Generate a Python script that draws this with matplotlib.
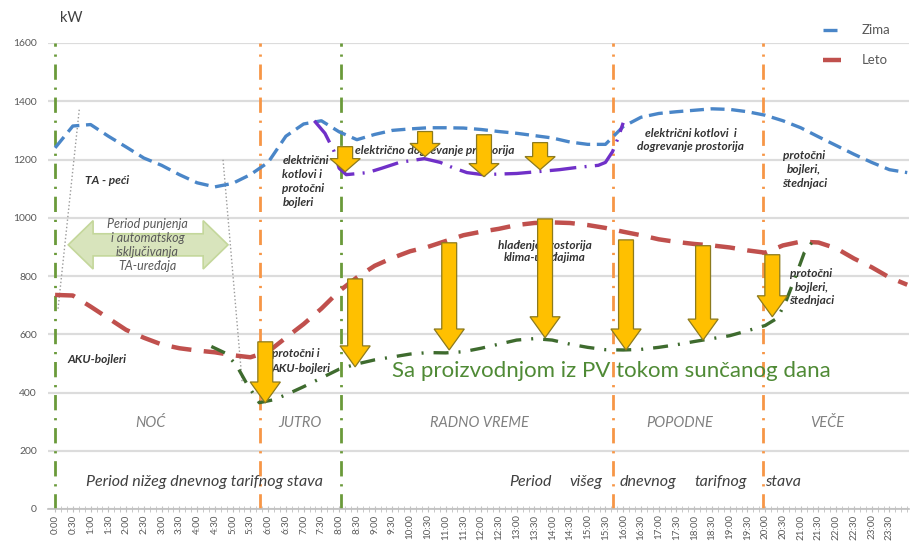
import matplotlib
matplotlib.use("Agg")
import matplotlib.pyplot as plt
import numpy as np
from matplotlib.patches import FancyArrow, Polygon

plt.rcParams['font.family'] = ['Lato', 'DejaVu Sans']

# half-hour time axis (hours), one extra point at the right edge
hours = np.arange(0, 24.01, 0.5)
tick_hours = np.arange(0, 24, 0.5)
tick_labels = [f"{int(h)}:{int(round((h % 1) * 60)):02d}" for h in tick_hours]

zima = [1240, 1315, 1320, 1280, 1243, 1205, 1180, 1148, 1120, 1106, 1118, 1148,
        1190, 1280, 1322, 1333, 1295, 1268, 1286, 1300, 1305, 1309, 1309, 1308,
        1303, 1296, 1290, 1282, 1274, 1260, 1252, 1252, 1313, 1345, 1358, 1364,
        1369, 1374, 1372, 1364, 1352, 1333, 1309, 1278, 1248, 1218, 1190, 1165, 1155]
leto = [735, 733, 695, 655, 615, 588, 565, 552, 544, 538, 528, 521,
        540, 588, 635, 688, 748, 795, 835, 862, 885, 900, 920, 940,
        952, 962, 975, 982, 984, 982, 975, 965, 952, 940, 926, 917,
        910, 905, 898, 888, 880, 905, 918, 915, 895, 860, 830, 795, 770]

# winter load reduced by local measures (purple)
winter_red_h = [7.3, 7.6, 7.85, 8.0, 8.2, 8.8, 9.2, 9.7, 10.4, 10.85, 11.2, 11.6, 12.05,
                12.5, 13.0, 13.75, 14.2, 14.65, 15.3, 15.5, 15.7, 15.86, 16.0]
winter_red = [1333, 1290, 1230, 1170, 1148, 1155, 1170, 1190, 1203, 1190, 1172, 1155, 1148,
              1150, 1152, 1160, 1165, 1172, 1180, 1190, 1227, 1275, 1326]

# summer load with PV production (dark green)
pv_h = [4.4, 4.8, 5.1, 5.4, 5.75, 6.15, 6.5, 7.0, 7.5, 8.0, 8.5, 9.0, 9.5, 10.0, 10.5,
        11.0, 11.5, 12.0, 12.5, 13.0, 13.5, 14.0, 14.5, 15.0, 15.5, 16.0, 16.5, 17.0,
        17.5, 18.0, 18.5, 19.0, 19.5, 20.0, 20.35, 20.6, 20.85, 21.1, 21.35]
pv = [558, 535, 495, 430, 365, 375, 392, 420, 450, 480, 498, 512, 522, 532, 537,
      536, 540, 552, 566, 580, 585, 580, 566, 555, 547, 546, 548, 555, 564,
      575, 585, 595, 612, 630, 656, 718, 797, 880, 921]

# big arrows: summer load -> PV line
big_arrow_h = [5.92, 8.45, 11.1, 13.8, 16.08, 18.25, 20.2]
big_arrow_top = [574, 790, 914, 996, 924, 904, 873]
big_arrow_tip = [364, 488, 546, 588, 546, 580, 660]
# small arrows: winter load -> purple line
small_arrow_h = [8.17, 10.42, 12.08, 13.66]
small_arrow_top = [1244, 1296, 1285, 1258]
small_arrow_tip = [1158, 1210, 1141, 1165]

green_vlines = [0.0, 8.05]
orange_vlines = [5.78, 15.7, 19.95]

periods = ["NOĆ", "JUTRO", "RADNO VREME", "POPODNE", "VEČE"]
period_h = [2.7, 6.9, 11.95, 17.6, 21.75]

fig = plt.figure(figsize=(9.16, 5.44), dpi=100)
ax = fig.add_axes([48 / 916, 1 - 509 / 544, (909 - 48) / 916, (509 - 43) / 544])
ax.set_xlim(-0.2, 24.05)
ax.set_ylim(0, 1600)

# grid + axes styling
ax.set_yticks(np.arange(0, 1601, 200))
ax.yaxis.grid(True, color='#dcdcdc', linewidth=1.6, zorder=0)
ax.set_axisbelow(True)
for s in ['top', 'right', 'left']:
    ax.spines[s].set_visible(False)
ax.spines['bottom'].set_color('#bfbfbf')
ax.spines['bottom'].set_linewidth(1.2)
ax.set_xticks(tick_hours)
ax.set_xticklabels(tick_labels, rotation=90, fontsize=7, color='#595959')
ax.set_xticks(np.arange(0, 24.01, 1 / 6), minor=True)
ax.tick_params(axis='x', which='both', direction='inout', length=4, color='#bfbfbf', pad=2)
ax.tick_params(axis='y', length=0, labelsize=7.5, labelcolor='#595959', pad=8)

# period separators
for h in green_vlines:
    ax.axvline(h, color='#6a9a3a', linewidth=2.0, dashes=(5.5, 2.8, 0.8, 2.8), zorder=2)
for h in orange_vlines:
    ax.axvline(h, color='#f79646', linewidth=2.0, dashes=(5.5, 2.8, 0.8, 2.8), zorder=2)

# thin gray dotted guides of the storage heater charging period
ax.plot([0.68, 0.08], [1371, 684], color='#9a9a9a', linewidth=1.0, linestyle=':', zorder=2)
ax.plot([4.73, 5.27], [1199, 433], color='#9a9a9a', linewidth=1.0, linestyle=':', zorder=2)

# light green double-headed arrow
x0, x1, yc = 0.37, 4.87, 907
body, head, hl = 38, 83, 0.7
arrow_shape = np.array([
    [x0, yc], [x0 + hl, yc + head], [x0 + hl, yc + body], [x1 - hl, yc + body],
    [x1 - hl, yc + head], [x1, yc], [x1 - hl, yc - head], [x1 - hl, yc - body],
    [x0 + hl, yc - body], [x0 + hl, yc - head]])
ax.add_patch(Polygon(arrow_shape, closed=True, facecolor='#d8e4bc', edgecolor='#c4d79b',
                     linewidth=1.2, zorder=3))
ax.text(2.6, 905, "Period punjenja\ni automatskog\nisključivanja\nTA-uređaja", ha='center',
        va='center', fontsize=9, style='italic', color='#595959', linespacing=1.2, zorder=4)

# annotations
note = dict(fontsize=8.6, fontweight='bold', style='italic', color='#333333', zorder=4)
ax.text(0.85, 1128, "TA - peći", ha='left', va='center', **note)
ax.text(0.35, 512, "AKU-bojleri", ha='left', va='center', **note)
ax.text(6.4, 1125, "električni\nkotlovi i\nprotočni\nbojleri", ha='left', va='center',
        linespacing=1.35, **note)
ax.text(8.45, 1232, "električno dogrevanje prostorija", ha='left', va='center', **note)
ax.text(17.9, 1266, "električni kotlovi  i\ndogrevanje prostorija", ha='center',
        va='center', linespacing=1.2, **note)
ax.text(21.1, 1165, "protočni\nbojleri,\nštednjaci", ha='center', va='center',
        linespacing=1.35, **note)
ax.text(13.8, 884, "hlađenje prostorija\nklima-uređajima", ha='center', va='center',
        linespacing=1.2, **note)
ax.text(6.1, 508, "protočni i\nAKU-bojleri", ha='left', va='center', linespacing=1.35, **note)
ax.text(21.3, 762, "protočni\nbojleri,\nštednjaci", ha='center', va='center',
        linespacing=1.25, **note)

for name, h in zip(periods, period_h):
    ax.text(h, 295, name, ha='center', va='center', fontsize=10.5, style='italic',
            color='#808080', zorder=4)
ax.text(4.2, 93, "Period nižeg dnevnog tarifnog stava", ha='center', va='center',
        fontsize=11.5, style='italic', color='#404040', zorder=4)
for word, h in zip(["Period", "višeg", "dnevnog", "tarifnog", "stava"],
                   [12.8, 14.5, 15.9, 18.0, 20.0]):
    ax.text(h, 93, word, ha='left', va='center', fontsize=11.5, style='italic',
            color='#404040', zorder=4)
ax.text(9.5, 475, "Sa proizvodnjom iz PV tokom sunčanog dana", ha='left', va='center',
        fontsize=16, color='#4f8a35', zorder=4)

# load curves
ax.plot(hours, zima, color='#4a86c8', linewidth=2.4, dashes=(4.2, 2.0), zorder=5,
        label='Zima')
ax.plot(hours, leto, color='#c0504d', linewidth=3.2, dashes=(4.5, 2.8), zorder=5,
        label='Leto')
ax.plot(winter_red_h, winter_red, color='#7030c8', linewidth=2.4,
        dashes=(8, 2.5, 0.6, 2.5), zorder=5)
ax.plot(pv_h, pv, color='#3e6b2e', linewidth=2.4, dashes=(4.5, 3.0, 0.6, 3.0), zorder=5)

# yellow reduction arrows
for h, top, tip in zip(big_arrow_h, big_arrow_top, big_arrow_tip):
    ax.add_patch(FancyArrow(h, top, 0, tip - top, width=0.42, head_width=0.85,
                            head_length=72, length_includes_head=True,
                            facecolor='#ffc000', edgecolor='#8c7a1e', linewidth=0.9,
                            zorder=6))
for h, top, tip in zip(small_arrow_h, small_arrow_top, small_arrow_tip):
    ax.add_patch(FancyArrow(h, top, 0, tip - top, width=0.42, head_width=0.85,
                            head_length=45, length_includes_head=True,
                            facecolor='#ffc000', edgecolor='#8c7a1e', linewidth=0.9,
                            zorder=6))

leg = fig.legend(loc='upper right', bbox_to_anchor=(0.985, 0.977), frameon=False,
                 fontsize=9.5, handlelength=1.3, labelspacing=1.35, handletextpad=1.6)
for t in leg.get_texts():
    t.set_color('#595959')

fig.text(60 / 916, 1 - 18 / 544, "kW", fontsize=10.5, color='#404040', va='center')

fig.savefig("out.png", dpi=100)
